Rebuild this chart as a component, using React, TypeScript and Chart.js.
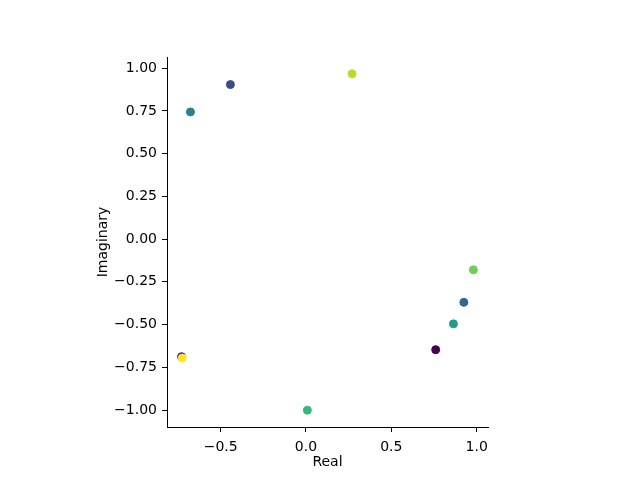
import React, { useEffect, useRef } from "react";
import { Chart, registerables } from "chart.js";

Chart.register(...registerables);

const realValues = [0.760, -0.729, -0.443, 0.925, -0.677, 0.864, 0.008, 0.981, 0.270, -0.725];
const imagValues = [-0.647, -0.688, 0.904, -0.370, 0.744, -0.496, -1.001, -0.180, 0.967, -0.696];
const pointColors = ["#440154", "#482878", "#3e4989", "#31688e", "#26828e", "#1f9e89", "#35b779", "#6ece58", "#b5de2b", "#fde725"];
const xTicks = [-0.5, 0.0, 0.5, 1.0];
const yTicks = [-1.0, -0.75, -0.5, -0.25, 0.0, 0.25, 0.5, 0.75, 1.0];
const xLabel = "Real";
const yLabel = "Imaginary";

function paddedRange(values: number[]) {
  const lo = Math.min(...values);
  const hi = Math.max(...values);
  const m = (hi - lo) * 0.05;
  return [lo - m, hi + m];
}

const FONT = "'DejaVu Sans', sans-serif";

export default function App() {
  const ref = useRef<HTMLCanvasElement | null>(null);
  useEffect(() => {
    if (!ref.current) return;
    const [xMin, xMax] = paddedRange(realValues);
    const [yMin, yMax] = paddedRange(imagValues);
    const fmt = (d: number) => (v: number) => v.toFixed(d).replace("-", "\u2212");
    const chart = new Chart(ref.current, {
      type: "scatter",
      data: {
        datasets: [
          {
            data: realValues.map((x, i) => ({ x, y: imagValues[i] })),
            backgroundColor: pointColors,
            borderColor: pointColors,
            borderWidth: 1,
            pointRadius: 4,
            pointHoverRadius: 4,
          },
        ],
      },
      options: {
        animation: false,
        responsive: false,
        events: [],
        layout: { padding: { top: 57, right: 152, left: 0, bottom: 0 } },
        plugins: { legend: { display: false }, tooltip: { enabled: false } },
        scales: {
          x: {
            type: "linear",
            min: xMin,
            max: xMax,
            afterBuildTicks: (s: any) => {
              s.ticks = xTicks.map((v) => ({ value: v }));
            },
            afterFit: (s: any) => {
              s.height = 53;
            },
            grid: { drawOnChartArea: false, drawTicks: true, tickLength: 5, tickColor: "#000", tickWidth: 1 },
            border: { display: true, color: "#000", width: 1 },
            ticks: { color: "#000", padding: 7, maxRotation: 0, font: { family: FONT, size: 14 }, callback: (v: any) => fmt(1)(Number(v)) },
            title: { display: true, text: xLabel, color: "#000", font: { family: FONT, size: 14 }, padding: { top: 0, bottom: 9 } },
          },
          y: {
            type: "linear",
            min: yMin,
            max: yMax,
            afterBuildTicks: (s: any) => {
              s.ticks = yTicks.map((v) => ({ value: v }));
            },
            afterFit: (s: any) => {
              s.width = 167;
            },
            grid: { drawOnChartArea: false, drawTicks: true, tickLength: 5, tickColor: "#000", tickWidth: 1 },
            border: { display: true, color: "#000", width: 1 },
            ticks: { color: "#000", padding: 5, font: { family: FONT, size: 14 }, callback: (v: any) => fmt(2)(Number(v)) },
            title: { display: true, text: yLabel, color: "#000", font: { family: FONT, size: 14 }, padding: { top: 94.5, bottom: 0 } },
          },
        },
      },
    });
    return () => chart.destroy();
  }, []);
  return (
    <div style={{ position: "fixed", left: 0, top: 0, width: 640, height: 480, background: "#fff" }}>
      <canvas ref={ref} width={640} height={480} style={{ width: 640, height: 480 }} />
    </div>
  );
}
